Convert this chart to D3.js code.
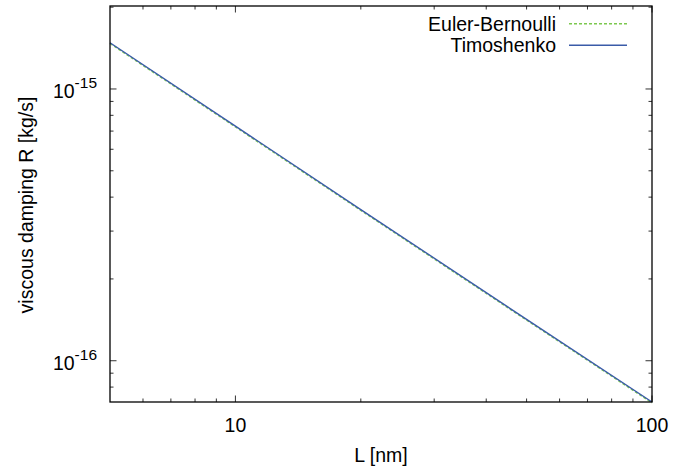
<!DOCTYPE html>
<html><head><meta charset="utf-8">
<script src="https://cdn.jsdelivr.net/npm/d3@7"></script>
<style>body{margin:0;background:#fff}svg{display:block}text{font-family:"Liberation Sans",Arial,sans-serif;fill:#000}</style>
</head><body>
<svg id="c" width="679" height="467"></svg>
<script>
const L = [5, 10, 20, 50, 100];
const eulerBernoulli = [1.48e-15, 7.3e-16, 3.6e-16, 1.42e-16, 7.05e-17];
const timoshenko = [1.48e-15, 7.3e-16, 3.6e-16, 1.42e-16, 7.05e-17];
const xTicks = [10, 100];
const yTicks = [1e-16, 1e-15];
const yExps = ["-16", "-15"];
const seriesNames = ["Euler-Bernoulli", "Timoshenko"];
const colors = ["#7cc84f", "#3a5ba8"];

const FS = 19.5;
const svg = d3.select("#c");
const m = {l: 110, r: 652, t: 6, b: 402};
const x = d3.scaleLog().domain([5, 100]).range([m.l, m.r]);
const y = d3.scaleLog().domain([7.05e-17, 2.02e-15]).range([m.b, m.t]);

// minor ticks
const xMinor = [6,7,8,9,20,30,40,50,60,70,80,90];
const yMinor = [8e-17,9e-17,2e-16,3e-16,4e-16,5e-16,6e-16,7e-16,8e-16,9e-16,2e-15];
const g = svg.append("g").attr("stroke", "#333").attr("stroke-width", 1);
xMinor.forEach(v => {
  g.append("line").attr("x1", x(v)).attr("x2", x(v)).attr("y1", m.b).attr("y2", m.b - 3.5);
  g.append("line").attr("x1", x(v)).attr("x2", x(v)).attr("y1", m.t).attr("y2", m.t + 3.5);
});
xTicks.forEach(v => {
  g.append("line").attr("x1", x(v)).attr("x2", x(v)).attr("y1", m.b).attr("y2", m.b - 6.5);
  g.append("line").attr("x1", x(v)).attr("x2", x(v)).attr("y1", m.t).attr("y2", m.t + 6.5);
});
yMinor.forEach(v => {
  g.append("line").attr("y1", y(v)).attr("y2", y(v)).attr("x1", m.l).attr("x2", m.l + 3.5);
  g.append("line").attr("y1", y(v)).attr("y2", y(v)).attr("x1", m.r).attr("x2", m.r - 3.5);
});
yTicks.forEach(v => {
  g.append("line").attr("y1", y(v)).attr("y2", y(v)).attr("x1", m.l).attr("x2", m.l + 6.5);
  g.append("line").attr("y1", y(v)).attr("y2", y(v)).attr("x1", m.r).attr("x2", m.r - 6.5);
});

// lines
const line = d3.line().x((d, i) => x(L[i])).y(d => y(d));
svg.append("path").datum(eulerBernoulli).attr("d", line).attr("fill", "none")
  .attr("stroke", colors[0]).attr("stroke-width", 1.4).attr("stroke-dasharray", "3,2").attr("transform", "translate(0,0.8)");
svg.append("path").datum(timoshenko).attr("d", line).attr("fill", "none")
  .attr("stroke", colors[1]).attr("stroke-width", 1.4);

// border
svg.append("rect").attr("x", m.l).attr("y", m.t).attr("width", m.r - m.l).attr("height", m.b - m.t)
  .attr("fill", "none").attr("stroke", "#000").attr("stroke-width", 1.3);

// x labels
xTicks.forEach(v => {
  svg.append("text").attr("x", x(v)).attr("y", 431.5).attr("text-anchor", "middle")
    .attr("font-size", FS).text(String(v));
});
// y labels
yTicks.forEach((v, i) => {
  const t = svg.append("text").attr("x", 97).attr("y", y(v) + 9.5).attr("text-anchor", "end").attr("font-size", FS);
  t.append("tspan").text("10");
  t.append("tspan").attr("dy", -10).attr("font-size", 15.5).text(yExps[i]);
});
// axis titles
svg.append("text").attr("x", 381).attr("y", 462).attr("text-anchor", "middle").attr("font-size", FS).text("L [nm]");
svg.append("text").attr("transform", "translate(33,205) rotate(-90)").attr("text-anchor", "middle")
  .attr("font-size", FS).text("viscous damping R [kg/s]");

// legend
const ly = [23.7, 45.3];
seriesNames.forEach((n, i) => {
  svg.append("text").attr("x", 556).attr("y", ly[i] + 7).attr("text-anchor", "end").attr("font-size", FS).text(n);
  svg.append("line").attr("x1", 569).attr("x2", 627).attr("y1", ly[i]).attr("y2", ly[i])
    .attr("stroke", colors[i]).attr("stroke-width", 1.4).attr("stroke-dasharray", i === 0 ? "3,2" : null);
});
</script>
</body></html>
